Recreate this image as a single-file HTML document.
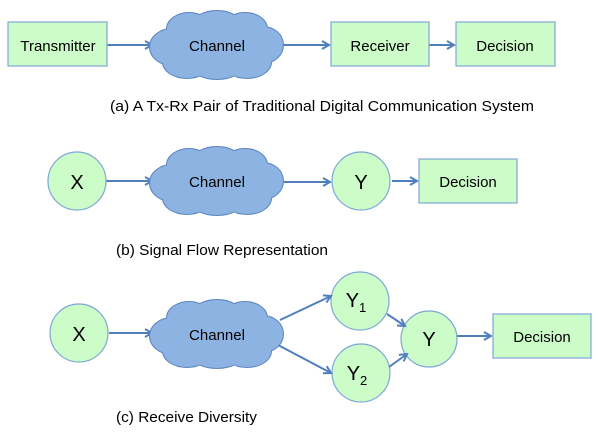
<!DOCTYPE html>
<html><head><style>
html,body{margin:0;padding:0;background:#fff;}
svg{display:block;font-family:"Liberation Sans",sans-serif;}
</style></head><body>
<svg width="600" height="435" viewBox="0 0 600 435" xmlns="http://www.w3.org/2000/svg">
<defs>
<marker id="ah" markerWidth="10" markerHeight="10" refX="8" refY="5" orient="auto" markerUnits="userSpaceOnUse">
<path d="M1,1 L8,5 L1,9" fill="none" stroke="#4f7fbf" stroke-width="2"/>
</marker>
<g id="cloudS">
<ellipse cx="-45" cy="2" rx="22" ry="18"/><ellipse cx="-28" cy="-16" rx="22" ry="16"/>
<ellipse cx="0" cy="-20" rx="24" ry="14"/><ellipse cx="28" cy="-16" rx="22" ry="16"/>
<ellipse cx="46" cy="0" rx="20" ry="18"/><ellipse cx="30" cy="17" rx="24" ry="16"/>
<ellipse cx="0" cy="20" rx="26" ry="14"/><ellipse cx="-30" cy="17" rx="24" ry="16"/>
<ellipse cx="0" cy="0" rx="50" ry="22"/>
</g>
<g id="cloud">
<use href="#cloudS" fill="#8db3e2" stroke="#5d86c0" stroke-width="2"/>
<use href="#cloudS" fill="#8db3e2"/>
</g>
</defs>
<g fill="#ccfcc8" stroke="#7ea6d8" stroke-width="1.2">
<circle cx="360" cy="301" r="29"/>
<circle cx="361" cy="373" r="29"/>
<circle cx="429" cy="339" r="28"/>
</g>
<g stroke="#4f7fbf" stroke-width="2" marker-end="url(#ah)">
<line x1="107" y1="45" x2="152" y2="45"/>
<line x1="282" y1="45" x2="329" y2="45"/>
<line x1="429" y1="45" x2="454" y2="45"/>
<line x1="106" y1="181" x2="152" y2="181"/>
<line x1="282" y1="182" x2="330" y2="182"/>
<line x1="392" y1="181" x2="417" y2="181"/>
<line x1="109" y1="333" x2="152" y2="333"/>
<line x1="280" y1="320" x2="331" y2="296"/>
<line x1="278" y1="345" x2="331" y2="373"/>
<line x1="387" y1="314" x2="405" y2="326"/>
<line x1="389" y1="367" x2="407" y2="354"/>
<line x1="457" y1="336" x2="491" y2="336"/>
</g>
<use href="#cloud" transform="translate(217,45)"/>
<use href="#cloud" transform="translate(217,181)"/>
<use href="#cloud" transform="translate(217,334)"/>
<g fill="#ccfcc8" stroke="#7ea6d8" stroke-width="1.2">
<rect x="8" y="22" width="99" height="44"/>
<rect x="331" y="22" width="98" height="44"/>
<rect x="456" y="22" width="99" height="44"/>
<rect x="419" y="159" width="98" height="44"/>
<rect x="493" y="314" width="98" height="44"/>
<circle cx="77" cy="181" r="29"/>
<circle cx="361" cy="181" r="29"/>
<circle cx="79" cy="333" r="29"/>
</g>
<g font-size="15" fill="#000" text-anchor="middle">
<text x="58" y="51">Transmitter</text>
<text x="217" y="51">Channel</text>
<text x="380" y="51">Receiver</text>
<text x="505" y="51">Decision</text>
<text x="217" y="187">Channel</text>
<text x="468" y="187">Decision</text>
<text x="217" y="340">Channel</text>
<text x="542" y="342">Decision</text>
</g>
<g font-size="20" text-anchor="middle">
<text x="77" y="189">X</text>
<text x="361" y="189">Y</text>
<text x="79" y="341">X</text>
<text x="429" y="346">Y</text>
<text x="356" y="307">Y<tspan font-size="13" dy="5">1</tspan></text>
<text x="357" y="380">Y<tspan font-size="13" dy="5">2</tspan></text>
</g>
<g font-size="15">
<text x="110" y="111" textLength="424" lengthAdjust="spacingAndGlyphs">(a) A Tx-Rx Pair of Traditional Digital Communication System</text>
<text x="116" y="255" textLength="212" lengthAdjust="spacingAndGlyphs">(b) Signal Flow Representation</text>
<text x="116" y="422" textLength="141" lengthAdjust="spacingAndGlyphs">(c) Receive Diversity</text>
</g>
</svg>
</body></html>
